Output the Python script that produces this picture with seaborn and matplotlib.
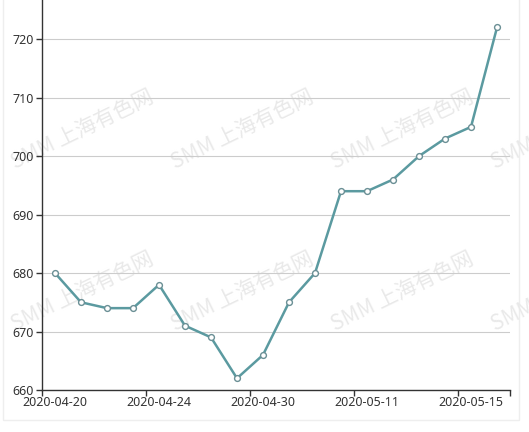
import pandas as pd
import numpy as np
import seaborn as sns
import matplotlib.pyplot as plt
from matplotlib.patches import Rectangle

# price data (trading days)
dates = ['2020-04-20', '2020-04-21', '2020-04-22', '2020-04-23', '2020-04-24',
         '2020-04-27', '2020-04-28', '2020-04-29', '2020-04-30', '2020-05-06',
         '2020-05-07', '2020-05-08', '2020-05-11', '2020-05-12', '2020-05-13',
         '2020-05-14', '2020-05-15', '2020-05-18']
prices = [680, 675, 674, 674, 678, 671, 669, 662, 666, 675,
          680, 694, 694, 696, 700, 703, 705, 722]
y_ticks = [660, 670, 680, 690, 700, 710, 720]
label_every = 4

df = pd.DataFrame({'idx': np.arange(len(dates)), 'date': dates, 'price': prices})

sns.set_theme(style='white')
plt.rcParams['font.family'] = ['Noto Sans', 'DejaVu Sans']

fig = plt.figure(figsize=(5.29, 4.32), dpi=100)
ax = fig.add_axes([42 / 529, 42 / 432, 468 / 529, 390 / 432])
ax.patch.set_alpha(0)

sns.lineplot(data=df, x='idx', y='price', ax=ax, color='#5b9aa0', linewidth=1.8,
             marker='o', markersize=4.2, markerfacecolor='white',
             markeredgecolor='#6a8f95', markeredgewidth=1.0, zorder=3)

n = len(dates)
ax.set_xlim(-0.5, n - 0.5)
ax.set_ylim(660, 726.7)
ax.set_yticks(y_ticks)
ax.yaxis.grid(True, color='#cccccc', linewidth=0.8)
ax.set_axisbelow(True)

# ticks at category boundaries, labels centred on categories
bounds = [i - 0.5 for i in range(0, n, label_every)] + [n - 0.5]
ax.set_xticks(bounds)
ax.set_xticklabels([''] * len(bounds))
lab_pos = list(range(0, n, label_every))
ax.set_xticks(lab_pos, minor=True)
ax.set_xticklabels([dates[i] for i in lab_pos], minor=True)

ax.tick_params(axis='x', which='major', length=4, width=1, color='#333333', direction='out', bottom=True)
ax.tick_params(axis='x', which='minor', length=0, pad=4.5, labelsize=9, labelcolor='#333333')
ax.tick_params(axis='y', length=4, width=1, color='#333333', direction='out', left=True,
               pad=2, labelsize=9, labelcolor='#333333')

for side in ['top', 'right']:
    ax.spines[side].set_visible(False)
for side in ['left', 'bottom']:
    ax.spines[side].set_color('#333333')
    ax.spines[side].set_linewidth(1)

ax.set_xlabel('')
ax.set_ylabel('')

# watermark grid
for cy in [130, 292]:
    for cx in [82, 242, 402, 562]:
        fig.text(cx / 529, 1 - cy / 432, 'SMM 上海有色网', rotation=26, ha='center', va='center',
                 fontsize=15, color='#e9e9e9', zorder=-1,
                 family=['Noto Sans CJK SC', 'DejaVu Sans'])

# light frame of the container
fig.patches.append(Rectangle((3 / 529, 1 - 420 / 432), 516 / 529, 430 / 432,
                             transform=fig.transFigure, fill=False,
                             edgecolor='#eeeeee', linewidth=1, zorder=-2))

fig.savefig('out.png', dpi=100)
